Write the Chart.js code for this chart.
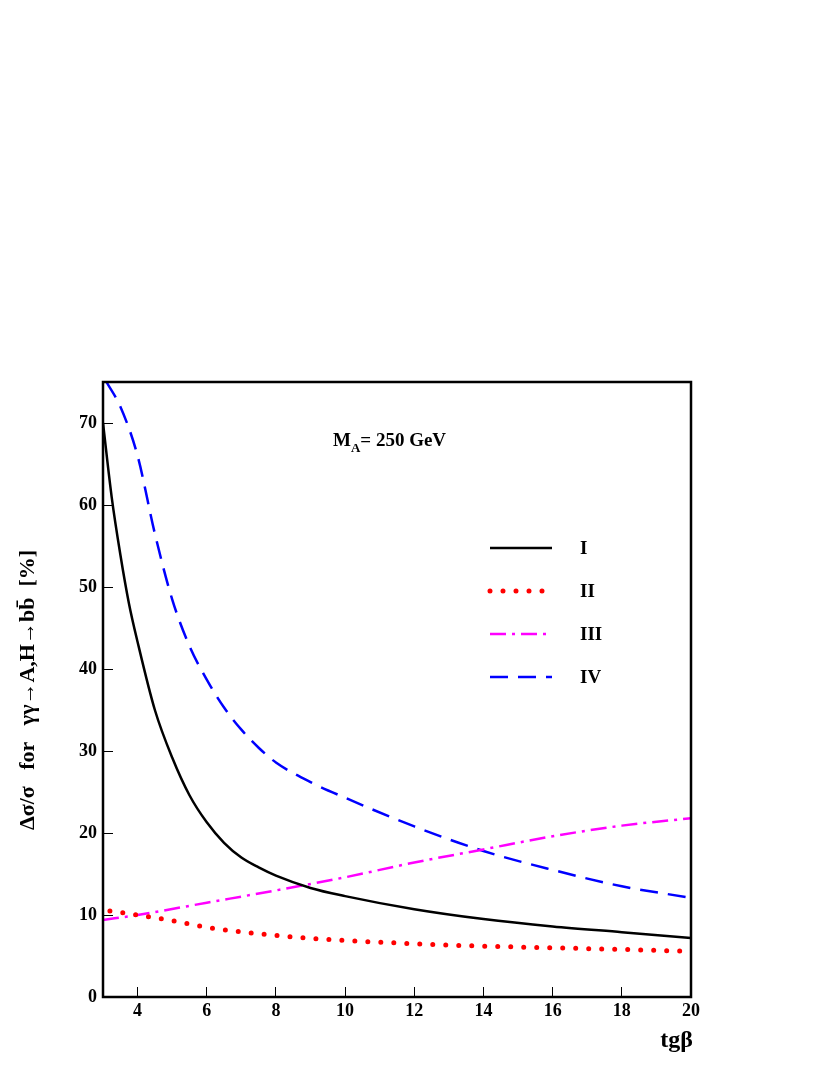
<!DOCTYPE html>
<html><head><meta charset="utf-8">
<script src="https://cdn.jsdelivr.net/npm/chart.js@4"></script>
<style>html,body{margin:0;padding:0;background:#fff}#wrap{width:830px;height:1075px;position:relative}</style>
</head><body><div id="wrap"><canvas id="c" width="830" height="1075"></canvas></div>
<script>
const xI=[3,3.25,3.5,3.75,4,4.5,5,5.5,6,6.5,7,7.5,8,9,10,12,14,16,18,20];
const yI=[70,61,54,48,43.3,35,29.2,24.6,21.3,18.8,17.0,15.8,14.8,13.3,12.3,10.7,9.5,8.6,7.9,7.2];
const xII=[3.2,4,5,6,8,10,12,14,16,18,19.7];
const yII=[10.5,10.0,9.3,8.5,7.5,6.9,6.5,6.2,6.0,5.8,5.6];
const xIII=[3,4,6,8,10,12,14,16,18,20];
const yIII=[9.4,10.0,11.5,13.0,14.6,16.4,18.0,19.6,20.9,21.8];
const xIV=[3.1,3.5,4,4.5,5,5.5,6,6.5,7,7.5,8,9,10,12,14,16,18,20];
const yIV=[75,72,66,56.5,48.5,42.8,38.7,35.3,32.6,30.4,28.6,26.2,24.3,20.8,17.8,15.5,13.5,12.1];
const xTicks=[4,6,8,10,12,14,16,18,20];
const yTicks=[0,10,20,30,40,50,60,70];
const names=['I','II','III','IV'];
const pts=(xs,ys)=>xs.map((x,i)=>({x,y:ys[i]}));
const F='"Liberation Serif", serif';
const ds=[
 {label:names[0],data:pts(xI,yI),borderColor:'#000',borderWidth:2.5},
 {label:names[1],data:pts(xII,yII),borderColor:'#f00',borderWidth:5,borderDash:[0,13],borderCapStyle:'round'},
 {label:names[2],data:pts(xIII,yIII),borderColor:'#f0f',borderWidth:2.5,borderDash:[16,6,3,6]},
 {label:names[3],data:pts(xIV,yIV),borderColor:'#00f',borderWidth:2.5,borderDash:[18,10]}
].map(d=>Object.assign({pointRadius:0,fill:false,cubicInterpolationMode:'monotone'},d));
const deco={id:'deco',afterDraw(ch){
 const c=ch.ctx,a=ch.chartArea;c.save();
 c.strokeStyle='#000';c.lineWidth=2.5;c.strokeRect(a.left,a.top,a.right-a.left,a.bottom-a.top);
 ds.forEach((d,i)=>{const y=548+i*43;c.beginPath();c.strokeStyle=d.borderColor;c.lineWidth=d.borderWidth;c.lineCap=d.borderCapStyle||'butt';c.setLineDash(d.borderDash||[]);c.moveTo(490,y);c.lineTo(552,y);c.stroke();
  c.setLineDash([]);c.fillStyle='#000';c.font='bold 19px '+F;c.textBaseline='middle';c.fillText(d.label,580,y+1);});
 c.fillStyle='#000';c.textBaseline='alphabetic';c.font='bold 19px '+F;
 c.fillText('M',333,446);let w=c.measureText('M').width;c.font='bold 13px '+F;c.fillText('A',333+w,452);
 w+=c.measureText('A').width;c.font='bold 19px '+F;c.fillText('= 250 GeV',333+w,446);
 c.font='bold 24px '+F;c.textAlign='right';c.fillText('tgβ',693,1047);
 c.translate(34,690);c.rotate(-Math.PI/2);c.textAlign='center';c.font='bold 22px '+F;
 c.fillText('Δσ/σ   for   γγ→A,H→bb̄  [%]',0,0);
 c.restore();}};
new Chart(document.getElementById('c'),{type:'line',data:{datasets:ds},plugins:[deco],
 options:{responsive:false,animation:false,layout:{padding:{top:382,right:139,left:0,bottom:0}},
  plugins:{legend:{display:false},tooltip:{enabled:false}},
  scales:{
   x:{type:'linear',min:3,max:20,afterBuildTicks:s=>{s.ticks=xTicks.map(v=>({value:v}))},
      afterFit:s=>{s.height=78},grid:{drawOnChartArea:false,tickLength:-10,color:'#000'},
      ticks:{color:'#000',font:{family:F,size:18,weight:'bold'},padding:14,maxRotation:0}},
   y:{min:0,max:75,afterBuildTicks:s=>{s.ticks=yTicks.map(v=>({value:v}))},
      afterFit:s=>{s.width=103},grid:{drawOnChartArea:false,tickLength:-10,color:'#000'},
      ticks:{color:'#000',font:{family:F,size:18,weight:'bold'},padding:16}}}}});
</script></body></html>
